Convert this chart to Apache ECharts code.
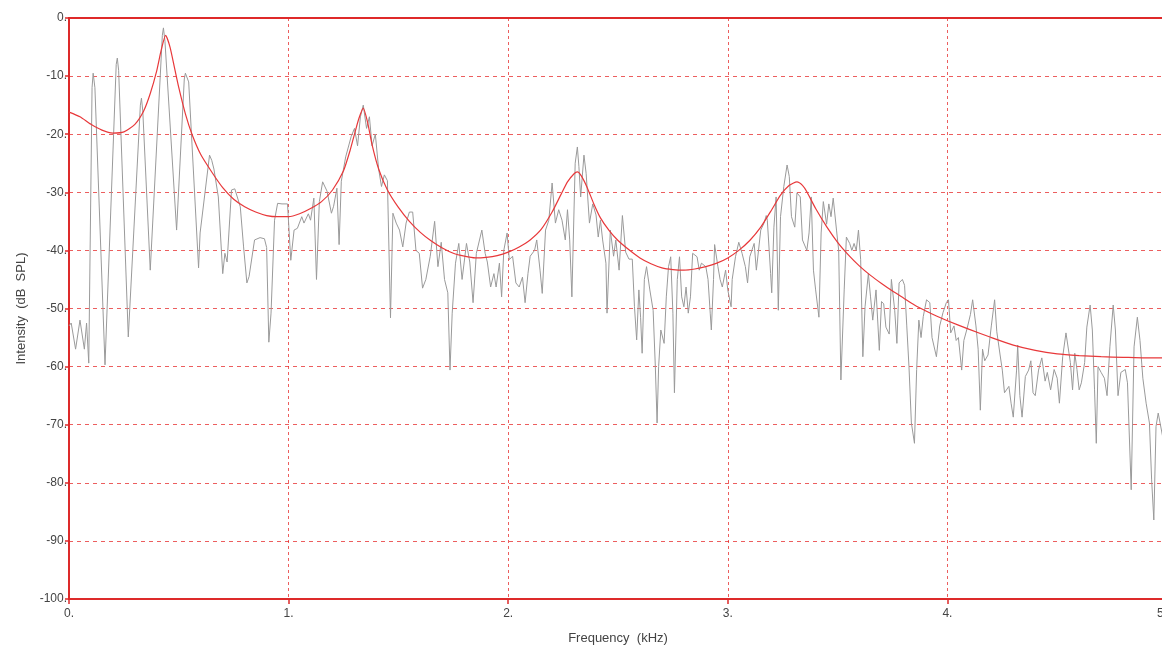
<!DOCTYPE html>
<html>
<head>
<meta charset="utf-8">
<script src="https://cdn.jsdelivr.net/npm/echarts@6/dist/echarts.min.js"></script>
<style>
html,body{margin:0;padding:0;background:#fff;}
#chart{width:1162px;height:654px;}
</style>
</head>
<body>
<div id="chart"></div>
<script>
// Tick labels
const xTickValues = [0, 1, 2, 3, 4, 5];
const xTickLabels = ['0.', '1.', '2.', '3.', '4.', '5.'];
const yTickValues = [0, -10, -20, -30, -40, -50, -60, -70, -80, -90, -100];
const yTickLabels = ['0.', '-10.', '-20.', '-30.', '-40.', '-50.', '-60.', '-70.', '-80.', '-90.', '-100.'];

// Measured spectrum (kHz, dB SPL) — grey trace
const spectrum = [
[0.000,-53],[0.01,-52.5],[0.03,-57],[0.05,-52],[0.07,-57],[0.08,-52.5],[0.09,-59.4],[0.105,-12],[0.11,-9.5],[0.118,-12],[0.164,-59.7],
[0.215,-8],[0.22,-6.9],[0.226,-9],[0.27,-54.9],[0.325,-15],[0.33,-13.8],[0.336,-16],[0.37,-43.4],[0.425,-3],[0.43,-1.7],[0.437,-4],
[0.49,-36.5],[0.525,-10.5],[0.53,-9.5],[0.545,-11],[0.59,-43],[0.597,-37],[0.64,-23.6],[0.65,-24.5],[0.66,-26],[0.68,-30.8],
[0.70,-44],[0.71,-40.5],[0.72,-42],[0.74,-29.6],[0.755,-29.4],[0.78,-32.5],[0.795,-39.4],[0.81,-45.6],[0.82,-44.5],[0.845,-38.2],
[0.87,-37.8],[0.89,-38],[0.90,-39.5],[0.91,-55.8],[0.92,-50.8],[0.936,-34.8],[0.95,-31.9],[0.97,-32],[0.995,-32],[1.01,-41.7],
[1.025,-36.5],[1.04,-36.2],[1.06,-34.2],[1.07,-35.3],[1.09,-33.7],[1.10,-34.8],[1.115,-31],[1.127,-45],[1.14,-31.6],[1.155,-28.2],
[1.175,-29.8],[1.195,-33.6],[1.205,-32.4],[1.22,-29.3],[1.23,-39],[1.24,-28.1],[1.26,-23.9],[1.285,-20.4],[1.30,-19],[1.314,-22],
[1.327,-17],[1.34,-15],[1.355,-19],[1.368,-17],[1.38,-22],[1.395,-20],[1.41,-26],[1.423,-29],[1.436,-27],[1.45,-28],[1.464,-51.6],
[1.475,-33.6],[1.49,-35.3],[1.505,-36.5],[1.52,-39.4],[1.535,-35.3],[1.55,-33.4],[1.565,-33.4],[1.58,-40],[1.595,-40.5],[1.61,-46.5],
[1.625,-45],[1.645,-41],[1.665,-35],[1.68,-42.8],[1.695,-38.6],[1.71,-45],[1.725,-47.3],[1.735,-60.6],[1.745,-50.8],[1.76,-42.2],
[1.775,-38.8],[1.79,-45],[1.81,-38.8],[1.825,-42],[1.84,-49],[1.855,-40.5],[1.88,-36.5],[1.895,-40.5],[1.905,-42],[1.92,-46.3],
[1.935,-44],[1.945,-46.3],[1.96,-42.2],[1.97,-48],[1.98,-40],[1.995,-37],[2.005,-41.6],[2.02,-41],[2.035,-45.6],[2.05,-46.3],
[2.065,-44.6],[2.077,-49],[2.09,-44],[2.10,-41],[2.12,-40],[2.13,-38.2],[2.145,-43.4],[2.155,-47.4],[2.17,-36.5],[2.185,-34.8],
[2.2,-28.4],[2.215,-35.3],[2.23,-33],[2.245,-34.8],[2.26,-38.2],[2.27,-33],[2.28,-38.2],[2.29,-48],[2.305,-25],[2.315,-22.2],
[2.322,-25.6],[2.33,-30.8],[2.345,-23.6],[2.355,-26.8],[2.37,-35.3],[2.385,-32],[2.40,-33.9],[2.41,-37.7],[2.42,-34.8],[2.43,-38.2],
[2.445,-42.2],[2.45,-50.8],[2.465,-36.5],[2.48,-41],[2.49,-38.2],[2.505,-43.4],[2.52,-34],[2.535,-40.3],[2.55,-41.5],[2.565,-41.5],
[2.575,-49.7],[2.585,-55.4],[2.595,-46.8],[2.603,-51.6],[2.61,-57.7],[2.62,-45],[2.63,-42.8],[2.645,-46.8],[2.66,-50.3],[2.67,-60],
[2.678,-69.7],[2.685,-60],[2.695,-53.7],[2.71,-56],[2.72,-48],[2.73,-42.8],[2.74,-41.1],[2.75,-50.8],[2.757,-64.5],[2.77,-45],
[2.78,-41.1],[2.79,-48],[2.80,-49.7],[2.81,-46.3],[2.82,-50.8],[2.83,-48],[2.84,-40.5],[2.86,-41.1],[2.87,-43.4],[2.88,-42.2],
[2.90,-42.8],[2.91,-45],[2.92,-50.8],[2.925,-53.7],[2.935,-45],[2.94,-39],[2.955,-42.8],[2.965,-45],[2.975,-46.3],[2.99,-43.4],
[3.00,-46.8],[3.015,-49.7],[3.02,-45],[3.035,-41.1],[3.05,-38.6],[3.065,-40.5],[3.08,-42.8],[3.09,-45.6],[3.10,-41.1],[3.12,-38.8],
[3.13,-43.4],[3.15,-36.5],[3.165,-35.3],[3.175,-34],[3.18,-34.8],[3.195,-44],[3.20,-47.3],[3.21,-36],[3.22,-30.8],[3.23,-50.3],
[3.24,-34.2],[3.255,-29],[3.27,-25.3],[3.28,-27.3],[3.29,-34.2],[3.305,-36],[3.315,-30.1],[3.33,-30.8],[3.34,-38.2],[3.36,-40],
[3.37,-37],[3.38,-30.8],[3.39,-43.4],[3.40,-46.8],[3.415,-51.5],[3.425,-37],[3.435,-31.6],[3.45,-35.5],[3.46,-32],[3.47,-34.2],
[3.48,-31],[3.495,-36.5],[3.505,-40],[3.515,-62.3],[3.53,-46.8],[3.54,-37.7],[3.555,-38.8],[3.565,-40],[3.575,-38.8],[3.585,-40],
[3.595,-36.5],[3.605,-41.6],[3.615,-58.3],[3.625,-49.7],[3.64,-44],[3.65,-48],[3.66,-52],[3.675,-46.8],[3.69,-57.2],[3.70,-48.8],
[3.71,-49.2],[3.72,-53.2],[3.735,-54.4],[3.745,-45],[3.76,-50.3],[3.77,-56],[3.78,-45.6],[3.795,-45],[3.805,-46],[3.815,-53],
[3.825,-60],[3.836,-69.7],[3.85,-73.2],[3.86,-60.5],[3.87,-52],[3.88,-55],[3.89,-51.4],[3.905,-48.5],[3.92,-49],[3.93,-55],
[3.95,-58.3],[3.965,-53],[3.98,-50.7],[3.995,-49],[4.005,-48.5],[4.015,-54.2],[4.03,-53],[4.04,-55.5],[4.05,-55],[4.065,-60.6],
[4.075,-55.5],[4.09,-53.4],[4.105,-51],[4.115,-48.5],[4.13,-53],[4.14,-57],[4.15,-67.5],[4.16,-57],[4.17,-59],[4.185,-58],
[4.20,-53],[4.215,-48.5],[4.225,-54],[4.24,-58],[4.25,-60.6],[4.26,-64.5],[4.28,-63.4],[4.29,-66.3],[4.30,-68.7],[4.315,-60.6],
[4.32,-56.3],[4.33,-65],[4.34,-68.7],[4.355,-61.7],[4.37,-60.6],[4.38,-59],[4.39,-64.5],[4.40,-65],[4.415,-60.6],[4.43,-58.5],
[4.445,-62.5],[4.455,-61],[4.47,-64],[4.486,-60.5],[4.50,-62],[4.51,-66.3],[4.525,-58.3],[4.54,-54.2],[4.56,-59.3],[4.57,-64],
[4.58,-57.7],[4.59,-60.5],[4.60,-64],[4.61,-62.8],[4.625,-59.3],[4.635,-53.2],[4.65,-49.4],[4.66,-53.7],[4.67,-64],[4.678,-73.2],
[4.686,-60],[4.70,-61],[4.715,-62],[4.727,-65],[4.74,-56.6],[4.755,-49.4],[4.765,-53.7],[4.777,-65],[4.79,-61],[4.81,-60.5],
[4.82,-62.8],[4.837,-81.2],[4.85,-56.6],[4.865,-51.5],[4.877,-55.5],[4.89,-62],[4.905,-66.3],[4.92,-69.7],[4.93,-79.5],[4.94,-86.4],
[4.95,-70.3],[4.96,-68],[4.98,-72],[5.00,-70]
];

// LPC envelope (kHz, dB SPL) — red trace
const envelope = [
[0,-16.2],[0.05,-17],[0.1,-18.3],[0.15,-19.3],[0.2,-19.8],[0.25,-19.6],[0.3,-18.3],[0.34,-16],[0.37,-13],[0.40,-9],[0.42,-5.5],
[0.44,-3],[0.46,-5],[0.48,-8.5],[0.50,-12],[0.53,-16.5],[0.56,-20],[0.6,-23.5],[0.65,-26.5],[0.7,-29.2],[0.75,-31.2],[0.8,-32.5],
[0.85,-33.4],[0.9,-34],[0.95,-34.2],[1.0,-34.2],[1.05,-33.7],[1.1,-32.8],[1.15,-31.6],[1.2,-29.6],[1.25,-26.3],[1.28,-22.8],
[1.30,-20],[1.32,-17.3],[1.34,-15.5],[1.36,-18],[1.38,-21.8],[1.41,-26],[1.45,-29.6],[1.5,-32.6],[1.55,-35],[1.6,-36.9],
[1.65,-38.4],[1.7,-39.6],[1.75,-40.5],[1.8,-41],[1.85,-41.3],[1.9,-41.2],[1.95,-40.9],[2.0,-40.3],[2.05,-39.4],[2.1,-38.2],
[2.15,-36.4],[2.2,-33.4],[2.24,-30.4],[2.27,-28.2],[2.3,-26.8],[2.315,-26.5],[2.335,-27.3],[2.36,-29.2],[2.39,-32],[2.42,-34.4],
[2.46,-36.6],[2.5,-38.3],[2.55,-39.9],[2.6,-41.3],[2.65,-42.3],[2.7,-43],[2.75,-43.3],[2.8,-43.4],[2.85,-43.2],[2.9,-42.8],
[2.95,-42.2],[3.0,-41.3],[3.05,-40],[3.1,-38.3],[3.15,-36],[3.2,-33],[3.24,-30.5],[3.28,-28.8],[3.315,-28.2],[3.34,-28.8],
[3.36,-29.9],[3.40,-32.8],[3.45,-35.9],[3.5,-38.6],[3.55,-40.8],[3.6,-42.7],[3.65,-44.3],[3.7,-45.7],[3.75,-47],[3.8,-48.2],
[3.85,-49.4],[3.9,-50.4],[3.95,-51.3],[4.0,-52.1],[4.1,-53.6],[4.2,-55],[4.3,-56.3],[4.4,-57.2],[4.5,-57.8],[4.6,-58.1],
[4.7,-58.3],[4.8,-58.4],[4.9,-58.5],[5.0,-58.5]
];

const RED = '#dd2a2a';
const GRID_RED = 'rgba(230,40,40,0.75)';
const FONT = 'Liberation Sans';

const chart = echarts.init(document.getElementById('chart'), null, {renderer: 'canvas'});
chart.setOption({
  animation: false,
  backgroundColor: '#ffffff',
  grid: {
    left: 69, top: 18, width: 1098, bottom: 55,
    containLabel: false, outerBoundsMode: 'none',
    show: true, borderColor: RED, borderWidth: 2, backgroundColor: 'transparent'
  },
  xAxis: {
    type: 'value', min: 0, max: 5, interval: 1,
    name: 'Frequency  (kHz)', nameLocation: 'middle', nameGap: 33,
    nameTextStyle: {color: '#444', fontSize: 13, fontFamily: FONT},
    axisLine: {show: true, onZero: false, lineStyle: {color: RED, width: 2}},
    axisTick: {show: true, length: 5, lineStyle: {color: RED, width: 1.5}},
    axisLabel: {
      color: '#444', fontSize: 12, fontFamily: FONT, margin: 9,
      showMinLabel: true, showMaxLabel: true, hideOverlap: false,
      alignMaxLabel: 'right',
      formatter: function (v) { const i = xTickValues.indexOf(v); return i >= 0 ? xTickLabels[i] : ''; }
    },
    splitLine: {show: true, lineStyle: {color: GRID_RED, width: 1, type: [3, 3]}}
  },
  yAxis: {
    type: 'value', min: -100, max: 0, interval: 10,
    name: 'Intensity  (dB  SPL)', nameLocation: 'middle', nameGap: 41, nameRotate: 90,
    nameTextStyle: {color: '#444', fontSize: 13, fontFamily: FONT},
    axisLine: {show: true, onZero: false, lineStyle: {color: RED, width: 2}},
    axisTick: {show: true, length: 4, lineStyle: {color: RED, width: 1.5}},
    axisLabel: {
      color: '#444', fontSize: 12, fontFamily: FONT, margin: 2,
      formatter: function (v) { const i = yTickValues.indexOf(v); return i >= 0 ? yTickLabels[i] : ''; }
    },
    splitLine: {show: true, lineStyle: {color: GRID_RED, width: 1, type: [4, 4]}}
  },
  series: [
    {
      type: 'line', data: spectrum, showSymbol: false, symbol: 'none',
      lineStyle: {color: '#9a9a9a', width: 1}, z: 2, clip: true
    },
    {
      type: 'line', data: envelope, showSymbol: false, symbol: 'none', smooth: 0.2,
      lineStyle: {color: '#e8383a', width: 1.2}, z: 3, clip: true
    }
  ]
});
</script>
</body>
</html>
